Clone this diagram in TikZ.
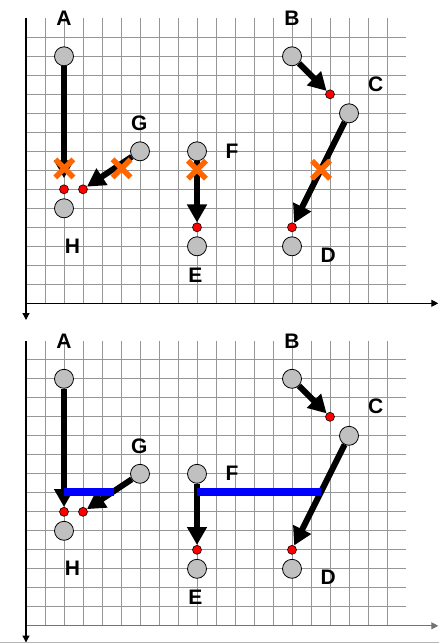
\documentclass[tikz,border=0pt]{standalone}
\usepackage{fontspec}
\setmainfont{Liberation Sans}
\usetikzlibrary{arrows.meta}
\definecolor{circfill}{RGB}{192,192,192}
\definecolor{gridc}{RGB}{150,150,150}
\definecolor{xorange}{RGB}{255,102,0}
\tikzset{
 big/.style={circle, draw=black, line width=0.8pt, fill=circfill, minimum size=19pt, inner sep=0pt},
 dot/.style={circle, draw=black, line width=0.6pt, fill=red, minimum size=9pt, inner sep=0pt},
 lbl/.style={font=\fontsize{21}{21}\selectfont\bfseries, inner sep=0pt},
 mv/.style={line width=6pt, -{Triangle[length=18pt,width=19pt]}},
 gridline/.style={gridc, line width=1pt},
 axisline/.style={line width=1.2pt, -{Triangle[length=7pt,width=7pt]}},
 cross/.style={xorange, line width=5.5pt},
 bar/.style={blue, line width=8.5pt},
}
\newcommand\gridpanel[1]{%
  \foreach \j in {0,...,13} \draw[gridline] (0,\j) -- (20,\j);
  \foreach \i in {1,...,19} \draw[gridline] (\i,-1) -- (\i,14);
  \draw[axisline,draw=#1] (0,14) -- (21.7,14);
  \draw[axisline] (0,-1) -- (0,14.88);
}
\newcommand\panelnodes[1]{%
  \node[big] (#1A) at (2,1) {};
  \node[big] (#1G) at (6,6) {};
  \node[big] (#1F) at (9,6) {};
  \node[big] (#1B) at (14,1) {};
  \node[big] (#1C) at (17,4) {};
  \node[big] (#1H) at (2,9) {};
  \node[big] (#1E) at (9,11) {};
  \node[big] (#1D) at (14,11) {};
  \node[dot] (#1r1) at (2,8) {};
  \node[dot] (#1r2) at (3,8) {};
  \node[dot] (#1r3) at (9,10) {};
  \node[dot] (#1r4) at (16,3) {};
  \node[dot] (#1r5) at (14,10) {};
  \node[lbl] (#1lA) at (2,-0.98) {A};
  \node[lbl] (#1lB) at (14,-0.98) {B};
  \node[lbl] (#1lC) at (18.4,2.45) {C};
  \node[lbl] (#1lG) at (5.96,4.53) {G};
  \node[lbl] (#1lF) at (10.85,5.98) {F};
  \node[lbl] (#1lH) at (2.45,10.98) {H};
  \node[lbl] (#1lE) at (8.92,12.52) {E};
  \node[lbl] (#1lD) at (15.9,11.46) {D};
}
\begin{document}
\begin{tikzpicture}
\useasboundingbox (0pt,0pt) rectangle (439pt,-644pt);
\fill[white] (0pt,0pt) rectangle (439pt,-644pt);
% top panel
\begin{scope}[shift={(26pt,-37.3pt)}, x=19pt, y=-19pt]
  \gridpanel{black}
  \panelnodes{t}
  \coordinate (tAend) at (2,7.42);
  \draw[mv] (tA) -- (tAend);
  \draw[mv] (tG) -- (tr2);
  \draw[mv] (tF) -- (tr3);
  \draw[mv] (tB) -- (tr4);
  \draw[mv] (tC) -- (tr5);
  \draw[cross] (2.02,6.9) +(-9pt,-9pt) -- +(9pt,9pt) +(-9pt,9pt) -- +(9pt,-9pt);
  \draw[cross] (5.03,6.9) +(-9pt,-9pt) -- +(9pt,9pt) +(-9pt,9pt) -- +(9pt,-9pt);
  \draw[cross] (9,6.97) +(-9pt,-9pt) -- +(9pt,9pt) +(-9pt,9pt) -- +(9pt,-9pt);
  \draw[cross] (15.53,6.97) +(-9pt,-9pt) -- +(9pt,9pt) +(-9pt,9pt) -- +(9pt,-9pt);
\end{scope}
% bottom panel
\begin{scope}[shift={(26pt,-359.8pt)}, x=19pt, y=-19pt]
  \gridpanel{black!55}
  \panelnodes{b}
  \draw[mv] (bA) -- (br1);
  \draw[mv] (bG) -- (br2);
  \draw[mv] (bF) -- (br3);
  \draw[mv] (bB) -- (br4);
  \draw[mv] (bC) -- (br5);
  \coordinate (bar1a) at (2,6.95);
  \coordinate (bar1b) at (4.65,6.95);
  \coordinate (bar2a) at (9,6.95);
  \coordinate (bar2b) at (15.5,6.95);
  \draw[bar] (bar1a) -- (bar1b);
  \draw[bar] (bar2a) -- (bar2b);
\end{scope}
\draw[gridc!70, line width=1pt] (0pt,-642.7pt) -- (439pt,-642.7pt);
\end{tikzpicture}
\end{document}
